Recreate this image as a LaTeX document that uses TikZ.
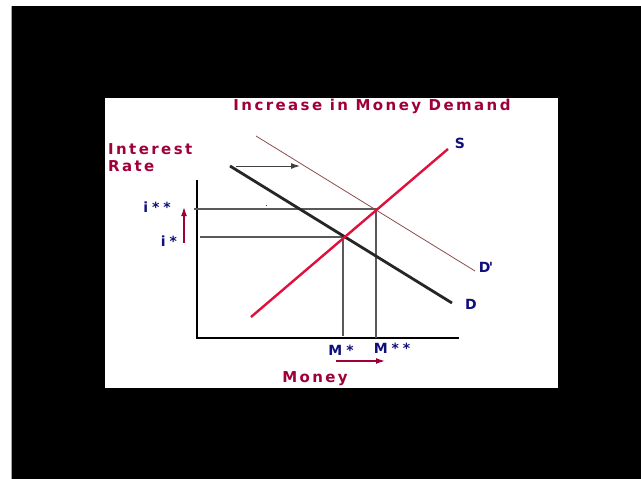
\documentclass[tikz,border=0pt]{standalone}
\usepackage{fontspec}
\newfontfamily\chartfont{DejaVu Sans}[LetterSpace=16]
\newfontfamily\markfont{DejaVu Sans}[LetterSpace=28]
\usetikzlibrary{arrows.meta, positioning}
\definecolor{MD_Crimson}{HTML}{A0003A}
\definecolor{MD_Red}{HTML}{E0103C}
\definecolor{MD_Navy}{HTML}{10107A}
\definecolor{MD_Brown}{HTML}{8C4E4E}
\tikzset{
  headtext/.style={font=\chartfont\bfseries\fontsize{15}{17}\selectfont, text=MD_Crimson, inner sep=0pt},
  marktext/.style={font=\markfont\bfseries\fontsize{14}{15}\selectfont, text=MD_Navy, inner sep=0pt},
  guide/.style={draw=black!65, line width=1.2pt},
  axisline/.style={draw=black, line width=2.6pt},
}

\begin{document}
\begin{tikzpicture}[x=1pt, y=-1pt]
% frame: black page, white panel
\useasboundingbox (0,0) rectangle (641,479);
\fill[white] (0,0) rectangle (641,479);
\fill[black] (11.5,6) rectangle (641,479);
\draw[black!35, line width=0.8pt] (11,6) -- (11,479);
\fill[white] (105,98) rectangle (558,388);

% --- texts ---
\node[headtext] (title) at (372,106) {Increase in Money Demand};
\node[headtext, anchor=west, align=left] (ylabel) at (108,158) {Interest\\Rate};
\node[headtext] (xlabel) at (315,379) {Money};

% --- axes ---
\coordinate (origin) at (197,338);
\coordinate (ytop) at (197,180);
\coordinate (xend) at (459,338);
\draw[axisline] (ytop) -- (origin) -- (xend);

% --- curves ---
\coordinate (Dstart) at (230,166);
\coordinate (Dend) at (452,303);
\coordinate (Dpstart) at (256,136);
\coordinate (Dpend) at (475,271);
\coordinate (Sstart) at (251,317);
\coordinate (Send) at (448,149);
\coordinate (eqA) at (343,237);
\coordinate (eqB) at (376,209);

% guide lines to the axes
\draw[guide] (194,209) -- (eqB) -- (376,338);
\draw[guide] (200,237) -- (eqA) -- (343,336);

\draw[draw=MD_Brown, line width=0.8pt] (Dpstart) -- (Dpend);
\draw[draw=black!85, line width=2.8pt] (Dstart) -- (Dend);
\draw[draw=MD_Red, line width=2.4pt] (Sstart) -- (Send);
\fill[black!70] (266.5,205.5) circle (0.6);

\node[marktext] (Slabel) at (460,143) {S};
\node[marktext] (Dplabel) at (486,267) {D\kern-1.5pt'};
\node[marktext] (Dlabel) at (471,304) {D};

% --- shift arrow ---
\coordinate (shiftA) at (236,166);
\coordinate (shiftB) at (300,166);
\draw[black!75, line width=1pt, -{Latex[length=9pt, width=6pt]}] (shiftA) -- (shiftB);

% --- rate labels ---
\node[marktext] (ihigh) at (157,207) {i**};
\node[marktext] (ilow) at (169,241) {i*};
\coordinate (iarrA) at (184,243);
\coordinate (iarrB) at (184,207);
\draw[MD_Crimson, line width=1.3pt, -{Latex[length=9pt, width=6pt]}] (iarrA) -- (iarrB);

% --- money labels ---
\node[marktext] (mlow) at (341,350) {M*};
\node[marktext] (mhigh) at (392,348) {M**};
\coordinate (marrA) at (336,361);
\coordinate (marrB) at (385,361);
\draw[MD_Crimson, line width=1.3pt, -{Latex[length=9pt, width=6pt]}] (marrA) -- (marrB);
\end{tikzpicture}
\end{document}
